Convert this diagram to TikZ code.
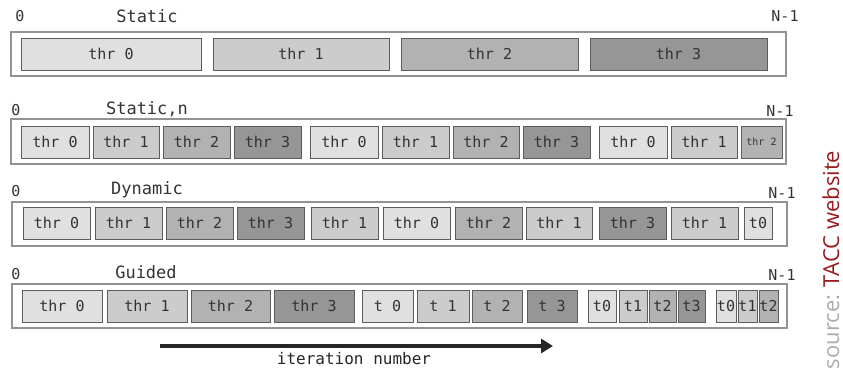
\documentclass[tikz,border=0pt]{standalone}
\usepackage{fontspec}
\setmonofont{DejaVu Sans Mono}
\setsansfont{Open Sans}
\usetikzlibrary{positioning, arrows.meta}

\definecolor{fill0}{gray}{0.88}
\definecolor{fill1}{gray}{0.80}
\definecolor{fill2}{gray}{0.70}
\definecolor{fill3}{gray}{0.59}
\definecolor{slotline}{gray}{0.36}
\definecolor{slottext}{gray}{0.20}
\definecolor{tacc}{RGB}{155,28,32}

\tikzset{
    row/.style={draw=gray!85, fill=white, line width=1.3pt, inner sep=0pt, outer sep=0pt,
        anchor=north west},
    slot/.style={draw=slotline, line width=0.8pt, minimum height=32pt, inner sep=0pt,
        outer sep=0pt, anchor=west, text=slottext, font=\ttfamily\fontsize{15}{15}\selectfont},
    slot0/.style={slot, fill=fill0},
    slot1/.style={slot, fill=fill1},
    slot2/.style={slot, fill=fill2},
    slot3/.style={slot, fill=fill3},
    title/.style={text=black!80, font=\ttfamily\fontsize{17}{17}\selectfont},
    bound/.style={text=black!80, font=\ttfamily\fontsize{15}{15}\selectfont},
}

\begin{document}
\begin{tikzpicture}[x=1pt, y=-1pt]
    \useasboundingbox (0,0) rectangle (843,371);

    % Static
    \node[row, minimum width=775pt, minimum height=44pt] (stat) at (11,32) {};
    \node[bound] (stat0) at (20,16) {0};
    \node[title] (statname) at (147,16) {Static};
    \node[bound] (statN) at (785,16) {N-1};
    \foreach \l/\r/\c/\txt [count=\i] in {21/201/0/thr 0, 213/389/1/thr 1,
            401/578/2/thr 2, 590/767/3/thr 3} {
        \pgfmathsetmacro\w{\r-\l}
        \node[slot\c, minimum width=\w pt] (stat\i) at (\l,54) {\txt};
    }

    % Static,n
    \node[row, minimum width=775pt, minimum height=45pt] (chunk) at (11,119) {};
    \node[bound] (chunk0) at (16,110) {0};
    \node[title] (chunkname) at (147,109) {Static,n};
    \node[bound] (chunkN) at (780,111) {N-1};
    \foreach \l/\r/\c/\txt [count=\i] in {21/89/0/thr 0, 93/159/1/thr 1, 163/230/2/thr 2,
            234/301/3/thr 3, 310/378/0/thr 0, 382/449/1/thr 1, 453/519/2/thr 2,
            523/590/3/thr 3, 599/667/0/thr 0, 671/737/1/thr 1} {
        \pgfmathsetmacro\w{\r-\l}
        \node[slot\c, minimum width=\w pt] (chunk\i) at (\l,142) {\txt};
    }
    \node[slot2, minimum width=41pt, font=\ttfamily\fontsize{10}{10}\selectfont] (chunk11)
        at (741,142) {thr 2};

    % Dynamic
    \node[row, minimum width=775pt, minimum height=44pt] (dyn) at (12,202) {};
    \node[bound] (dyn0) at (16,191) {0};
    \node[title] (dynname) at (147,190) {Dynamic};
    \node[bound] (dynN) at (782,193) {N-1};
    \foreach \l/\r/\c/\txt [count=\i] in {23/90/0/thr 0, 95/162/1/thr 1, 166/233/2/thr 2,
            237/304/3/thr 3, 311/378/1/thr 1, 383/450/0/thr 0, 455/522/2/thr 2,
            526/592/1/thr 1, 599/666/3/thr 3, 671/738/1/thr 1, 744/772/0/t0} {
        \pgfmathsetmacro\w{\r-\l}
        \node[slot\c, minimum width=\w pt] (dyn\i) at (\l,223) {\txt};
    }

    % Guided
    \node[row, minimum width=775pt, minimum height=44pt] (guid) at (12,284) {};
    \node[bound] (guid0) at (16,274) {0};
    \node[title] (guidname) at (146,272) {Guided};
    \node[bound] (guidN) at (782,275) {N-1};
    \foreach \l/\r/\c/\txt [count=\i] in {22/102/0/thr 0, 107/187/1/thr 1, 191/270/2/thr 2,
            274/354/3/thr 3, 362/413/0/t 0, 417/469/1/t 1, 472/522/2/t 2, 527/577/3/t 3,
            588/616/0/t0, 619/647/1/t1, 649/676/2/t2, 678/705/3/t3,
            716/736/0/t0, 738/757/1/t1, 759/778/2/t2} {
        \pgfmathsetmacro\w{\r-\l}
        \node[slot\c, minimum width=\w pt] (guid\i) at (\l,306) {\txt};
    }

    % iteration axis
    \coordinate (itbeg) at (160,346);
    \coordinate (itend) at (553,346);
    \draw[line width=3.6pt, black!85, -{Triangle[length=12pt, width=14pt]}] (itbeg) -- (itend);
    \node[text=black!85, font=\ttfamily\fontsize{16}{16}\selectfont] (itlabel) at (354,359)
        {iteration number};

    % source
    \node[rotate=90, anchor=base, font=\sffamily\fontsize{22}{22}\selectfont] (source)
        at (839,260) {\textcolor{gray!65}{source:} \textcolor{tacc}{TACC website}};
\end{tikzpicture}
\end{document}
